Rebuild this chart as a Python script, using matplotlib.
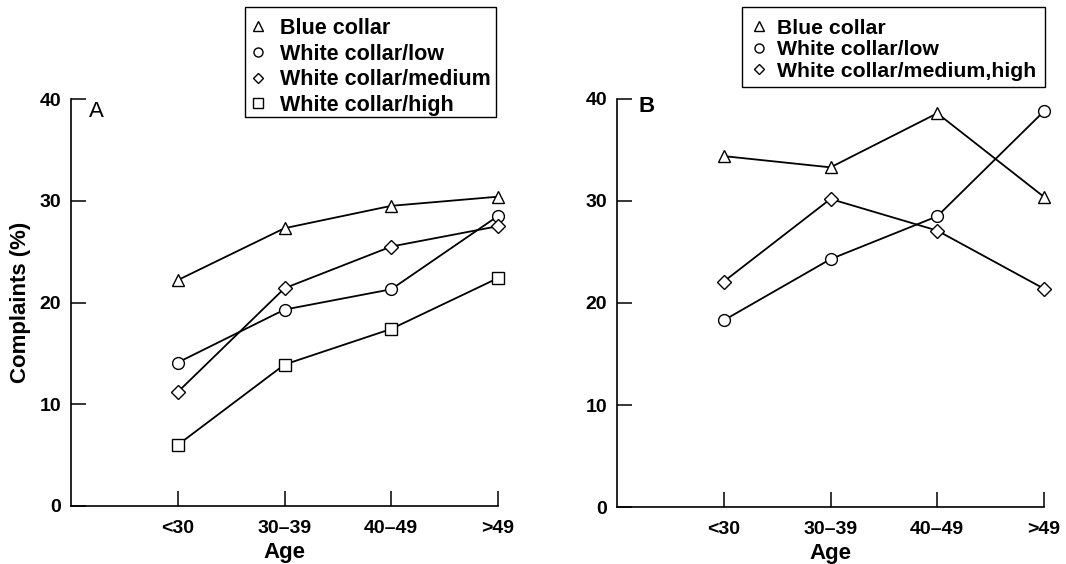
import matplotlib
matplotlib.use("Agg")
import matplotlib.pyplot as plt
from matplotlib.lines import Line2D
from matplotlib.patches import Rectangle

plt.rcParams['font.family'] = ['Liberation Sans', 'DejaVu Sans']
plt.rcParams['font.weight'] = 'bold'

age_groups = ["<30", "30\u201339", "40\u201349", ">49"]

# Panel A
a_blue = [22.2, 27.3, 29.5, 30.4]
a_white_low = [14.1, 19.3, 21.3, 28.5]
a_white_med = [11.2, 21.4, 25.5, 27.5]
a_white_high = [6.0, 13.9, 17.4, 22.4]

# Panel B
b_blue = [34.4, 33.3, 38.6, 30.4]
b_white_low = [18.3, 24.3, 28.5, 38.8]
b_white_medhigh = [22.1, 30.2, 27.1, 21.4]

yticks = [0, 10, 20, 30, 40]

W, H = 1066, 564
fig = plt.figure(figsize=(W / 100, H / 100), dpi=100)

def px_axes(left, right, top, bottom):
    return fig.add_axes([left / W, 1 - bottom / H, (right - left) / W, (bottom - top) / H])

axA = px_axes(71, 498, 99, 506)
axB = px_axes(617, 1044, 99, 507)

mk = dict(color='black', lw=1.3, markersize=8.5, markerfacecolor='white',
          markeredgecolor='black', markeredgewidth=1.0, clip_on=False)

x = list(range(len(age_groups)))

axA.plot(x, a_blue, marker='^', **mk)
axA.plot(x, a_white_low, marker='o', **mk)
axA.plot(x, a_white_med, marker='D', **{**mk, 'markersize': 7})
axA.plot(x, a_white_high, marker='s', **mk)

axB.plot(x, b_blue, marker='^', **mk)
axB.plot(x, b_white_low, marker='o', **mk)
axB.plot(x, b_white_medhigh, marker='D', **{**mk, 'markersize': 7})

for ax in (axA, axB):
    ax.set_xlim(-1, 3)
    ax.set_ylim(0, 40)
    ax.spines['top'].set_visible(False)
    ax.spines['right'].set_visible(False)
    ax.spines['left'].set_linewidth(1.2)
    ax.spines['bottom'].set_linewidth(1.2)
    ax.set_xticks(x)
    ax.set_xticklabels(age_groups)
    ax.set_yticks(yticks)
    ax.tick_params(axis='both', direction='in', length=11, width=1.1,
                   labelsize=14, pad=7)
    ax.tick_params(axis='x', pad=10)
    ax.set_xlabel("Age", fontsize=16, fontweight='bold', labelpad=4)

axA.set_ylabel("Complaints (%)", fontsize=16, fontweight='bold', labelpad=6)

fig.text(89 / W, 1 - 101 / H, "A", fontsize=16, fontweight='normal', va='top', ha='left')
fig.text(638 / W, 1 - 96 / H, "B", fontsize=16, fontweight='bold', va='top', ha='left')

def handle(m, ms=6.5):
    return Line2D([], [], linestyle='none', marker=m, markersize=ms,
                  markerfacecolor='white', markeredgecolor='black', markeredgewidth=1.0)

def box(l, t, r, b):
    fig.patches.append(Rectangle((l / W, 1 - b / H), (r - l) / W, (b - t) / H,
                                 transform=fig.transFigure, fill=False,
                                 edgecolor='black', linewidth=1.0))

box(245, 7, 496, 117)
box(742, 7, 1045, 87)

fig.legend([handle('^'), handle('o'), handle('D', 5.5), handle('s')],
           ["Blue collar", "White collar/low", "White collar/medium", "White collar/high"],
           loc='upper left', bbox_to_anchor=(250 / W, 1 - 18 / H),
           frameon=False, prop={'size': 15.5, 'weight': 'bold'},
           handlelength=0.78, handletextpad=0.62,
           labelspacing=0.215, borderpad=0, borderaxespad=0)

fig.legend([handle('^'), handle('o'), handle('D', 5.5)],
           ["Blue collar", "White collar/low", "White collar/medium,high"],
           loc='upper left', bbox_to_anchor=(751 / W, 1 - 18.5 / H),
           frameon=False, prop={'size': 15.3, 'weight': 'bold'},
           handlelength=0.78, handletextpad=0.44,
           labelspacing=0.125, borderpad=0, borderaxespad=0)

fig.savefig("out.png", dpi=100, facecolor='white')
